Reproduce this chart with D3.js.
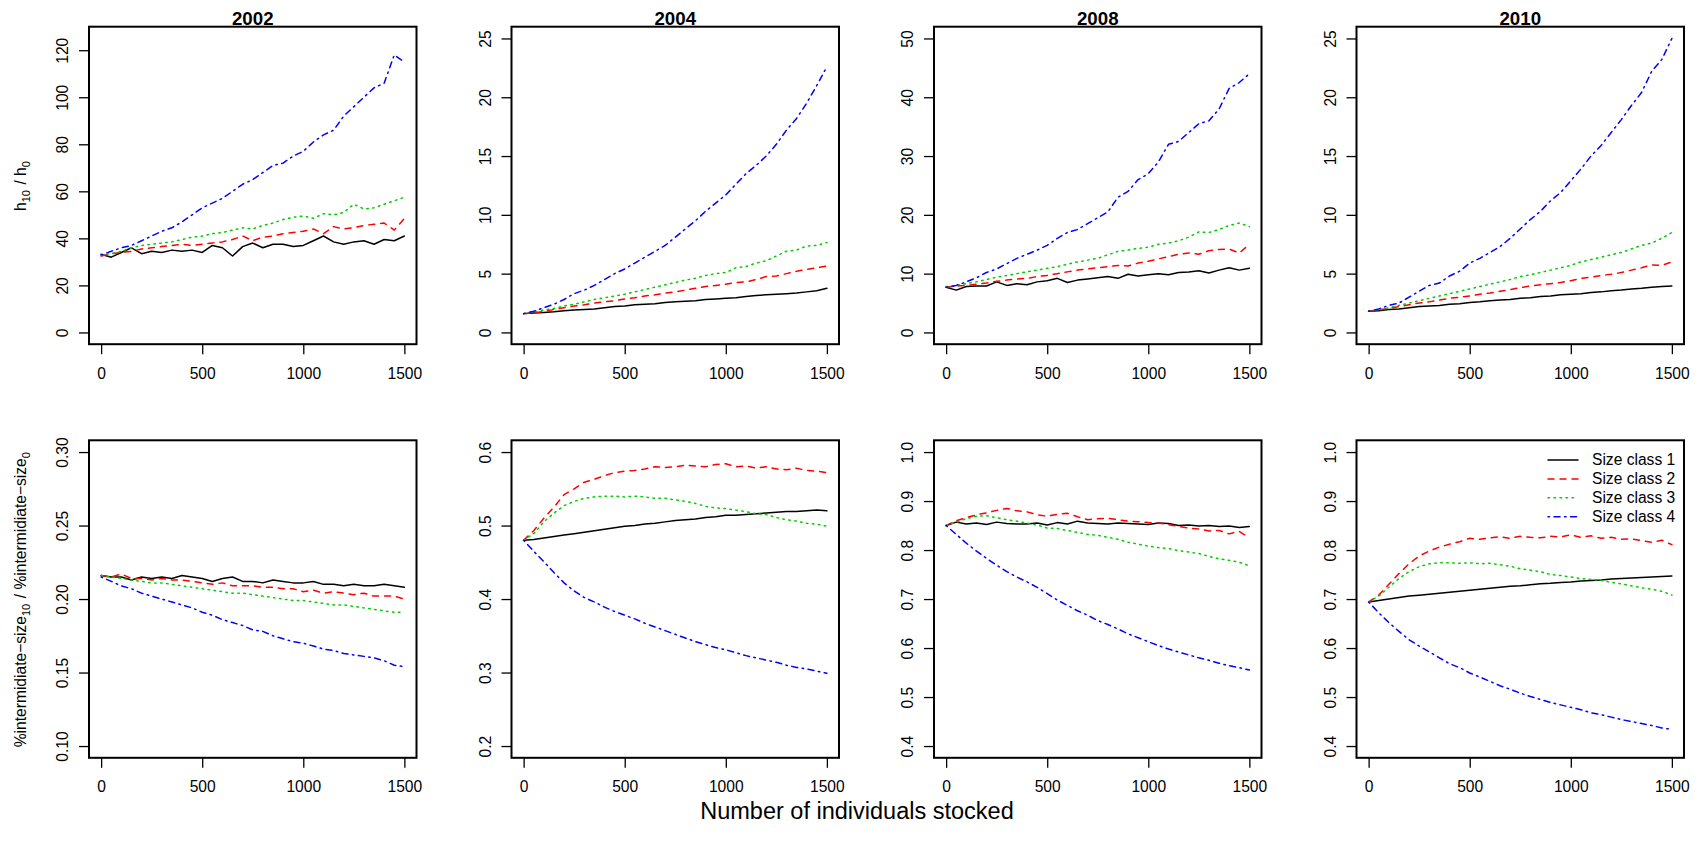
<!DOCTYPE html>
<html>
<head>
<meta charset="utf-8">
<script src="https://cdn.jsdelivr.net/npm/d3@7"></script>
<style>
  body { margin: 0; background: #fff; }
  svg { display: block; font-family: "Liberation Sans", Arial, Helvetica, sans-serif; }
</style>
</head>
<body>
<div id="chart"></div>
<script>
// x values (number of individuals stocked)
const stocked = [0, 50, 100, 150, 200, 250, 300, 350, 400, 450, 500, 550, 600, 650, 700, 750,
  800, 850, 900, 950, 1000, 1050, 1100, 1150, 1200, 1250, 1300, 1350, 1400, 1450, 1500];

const years = ["2002", "2004", "2008", "2010"];
const classes = ["Size class 1", "Size class 2", "Size class 3", "Size class 4"];
const xTicks = [0, 500, 1000, 1500];

// h10 / h0, one array per size class
const h2002 = [
  [33.2, 32, 34, 36, 33.5, 34.5, 34, 35, 34.5, 35, 34, 37, 36, 32.5, 36.5, 38, 36, 37.5, 37.5, 36.5, 37, 39, 41, 38.5, 37.5, 38.5, 39, 37.5, 39.5, 39, 41],
  [32.5, 33.5, 34, 34.5, 35.5, 36, 36.5, 37, 37.5, 37, 37.5, 38, 38.5, 39.5, 41, 39, 40.5, 41, 42, 42.5, 43, 44, 42, 45, 44, 44.5, 45.5, 46, 46.5, 43.5, 48.5],
  [33, 33.5, 34.5, 36, 37, 37.5, 38, 38.5, 39.5, 40.5, 41, 42, 42.5, 43.5, 44.5, 44, 45.5, 46.5, 48, 49, 49.5, 48.5, 50.5, 50, 51, 54.5, 52.5, 53, 54.5, 56, 57.5],
  [33, 34.5, 36, 37, 39, 41, 43, 44.5, 47, 50, 53, 55, 57, 60, 63, 65, 68, 71, 72, 75, 77, 81, 84, 86, 92, 96, 100, 104, 106, 118, 115]
];
const h2004 = [
  [1.6, 1.65, 1.7, 1.75, 1.85, 1.9, 1.95, 2.0, 2.1, 2.2, 2.25, 2.35, 2.4, 2.45, 2.55, 2.6, 2.65, 2.7, 2.8, 2.85, 2.9, 2.95, 3.05, 3.15, 3.2, 3.25, 3.3, 3.35, 3.45, 3.55, 3.75],
  [1.6, 1.65, 1.8, 1.95, 2.1, 2.25, 2.35, 2.5, 2.6, 2.7, 2.85, 2.95, 3.1, 3.2, 3.35, 3.45, 3.6, 3.75, 3.9, 4.0, 4.1, 4.25, 4.3, 4.5, 4.75, 4.8, 5.0, 5.2, 5.35, 5.5, 5.65],
  [1.6, 1.75, 1.9, 2.05, 2.25, 2.4, 2.6, 2.8, 2.95, 3.1, 3.25, 3.45, 3.65, 3.85, 4.05, 4.25, 4.45, 4.6, 4.85, 5.0, 5.1, 5.5, 5.6, 5.9, 6.1, 6.5, 6.9, 7.0, 7.35, 7.4, 7.65],
  [1.6, 1.8, 2.1, 2.4, 2.8, 3.3, 3.6, 4.0, 4.5, 5.0, 5.4, 5.9, 6.4, 6.9, 7.4, 8.1, 8.8, 9.5, 10.3, 11.0, 11.7, 12.6, 13.5, 14.2, 15.0, 16.0, 17.2, 18.2, 19.5, 21.0, 22.6]
];
const h2008 = [
  [7.7, 7.2, 7.8, 7.9, 7.9, 8.6, 8.0, 8.3, 8.1, 8.6, 8.8, 9.2, 8.5, 8.9, 9.1, 9.3, 9.5, 9.2, 9.9, 9.6, 9.8, 10.0, 9.8, 10.2, 10.3, 10.5, 10.1, 10.6, 11.0, 10.6, 10.9],
  [7.7, 7.9, 8.0, 8.2, 8.4, 8.7, 8.9, 9.1, 9.2, 9.5, 9.7, 10.0, 10.3, 10.6, 10.8, 11.0, 11.2, 11.4, 11.3, 11.8, 12.1, 12.5, 12.9, 13.3, 13.5, 13.3, 13.9, 14.1, 14.2, 13.5, 15.0],
  [7.8, 8.0, 8.3, 8.6, 9.0, 9.4, 9.7, 10.0, 10.3, 10.6, 10.9, 11.2, 11.6, 12.0, 12.3, 12.6, 13.2, 13.8, 14.0, 14.3, 14.5, 15.0, 15.2, 15.6, 16.2, 17.1, 17.0, 17.5, 18.2, 18.6, 18.0],
  [7.7, 8.0, 8.6, 9.3, 10.2, 10.8, 11.7, 12.6, 13.3, 14.0, 14.8, 16.0, 17.0, 17.5, 18.5, 19.5, 20.5, 23.0, 24.0, 26.0, 27.0, 29.0, 32.0, 32.5, 34.0, 35.5, 36.0, 38.0, 41.5, 42.5, 44.0]
];
const h2010 = [
  [1.8, 1.85, 1.95, 2.0, 2.1, 2.2, 2.25, 2.3, 2.4, 2.45, 2.55, 2.6, 2.7, 2.75, 2.8, 2.9, 2.95, 3.05, 3.1, 3.2, 3.25, 3.3, 3.4, 3.45, 3.55, 3.6, 3.7, 3.75, 3.85, 3.9, 3.95],
  [1.8, 1.9, 2.05, 2.2, 2.35, 2.5, 2.6, 2.75, 2.9, 3.0, 3.1, 3.25, 3.35, 3.5, 3.65, 3.8, 3.95, 4.05, 4.15, 4.25, 4.4, 4.6, 4.7, 4.85, 4.95, 5.1, 5.3, 5.5, 5.75, 5.7, 6.0],
  [1.8, 1.95, 2.1, 2.3, 2.5, 2.7, 2.9, 3.1, 3.3, 3.5, 3.7, 3.9, 4.1, 4.3, 4.5, 4.75, 4.9, 5.1, 5.3, 5.5, 5.7, 6.0, 6.2, 6.4, 6.6, 6.8, 7.1, 7.4, 7.6, 8.0, 8.5],
  [1.8, 2.0, 2.3, 2.5, 3.0, 3.5, 4.0, 4.2, 4.8, 5.2, 5.9, 6.3, 6.8, 7.3, 8.0, 8.8, 9.6, 10.3, 11.2, 11.9, 12.9, 13.9, 15.0, 15.9, 17.0, 18.1, 19.3, 20.4, 22.2, 23.2, 25.0]
];

// %intermediate-size10 / %intermediate-size0
const p2002 = [
  [0.216, 0.215, 0.215, 0.213, 0.215, 0.214, 0.215, 0.214, 0.216, 0.215, 0.214, 0.212, 0.214, 0.215, 0.212, 0.212, 0.211, 0.213, 0.212, 0.211, 0.211, 0.212, 0.210, 0.210, 0.209, 0.210, 0.209, 0.209, 0.210, 0.209, 0.208],
  [0.216, 0.215, 0.217, 0.214, 0.214, 0.213, 0.214, 0.213, 0.213, 0.212, 0.211, 0.210, 0.211, 0.209, 0.209, 0.209, 0.208, 0.208, 0.207, 0.207, 0.205, 0.206, 0.204, 0.205, 0.204, 0.203, 0.204, 0.202, 0.202, 0.202, 0.200],
  [0.216, 0.215, 0.214, 0.213, 0.212, 0.211, 0.211, 0.210, 0.209, 0.208, 0.207, 0.206, 0.205, 0.204, 0.204, 0.203, 0.202, 0.201, 0.200, 0.199, 0.199, 0.198, 0.197, 0.196, 0.196, 0.195, 0.194, 0.193, 0.192, 0.191, 0.191],
  [0.215, 0.212, 0.209, 0.207, 0.204, 0.202, 0.200, 0.198, 0.196, 0.194, 0.191, 0.189, 0.186, 0.184, 0.182, 0.179, 0.178, 0.175, 0.173, 0.171, 0.170, 0.168, 0.166, 0.165, 0.163, 0.162, 0.161, 0.160, 0.158, 0.155, 0.154]
];
const p2004 = [
  [0.480, 0.481, 0.483, 0.485, 0.487, 0.489, 0.491, 0.493, 0.495, 0.497, 0.499, 0.500, 0.502, 0.503, 0.505, 0.507, 0.508, 0.509, 0.511, 0.512, 0.514, 0.514, 0.515, 0.516, 0.517, 0.518, 0.519, 0.519, 0.520, 0.521, 0.520],
  [0.480, 0.493, 0.510, 0.525, 0.542, 0.550, 0.559, 0.563, 0.568, 0.572, 0.574, 0.575, 0.577, 0.580, 0.579, 0.580, 0.582, 0.581, 0.580, 0.583, 0.584, 0.580, 0.581, 0.578, 0.580, 0.577, 0.576, 0.578, 0.575, 0.574, 0.572],
  [0.480, 0.489, 0.505, 0.517, 0.527, 0.533, 0.537, 0.539, 0.540, 0.540, 0.539, 0.540, 0.539, 0.537, 0.537, 0.535, 0.533, 0.530, 0.526, 0.524, 0.523, 0.521, 0.519, 0.516, 0.515, 0.511, 0.508, 0.506, 0.503, 0.502, 0.499],
  [0.480, 0.465, 0.451, 0.436, 0.422, 0.411, 0.402, 0.396, 0.389, 0.383, 0.378, 0.373, 0.367, 0.362, 0.357, 0.352, 0.347, 0.342, 0.338, 0.334, 0.331, 0.327, 0.323, 0.320, 0.317, 0.314, 0.310, 0.307, 0.305, 0.302, 0.299]
];
const p2008 = [
  [0.850, 0.857, 0.853, 0.855, 0.852, 0.857, 0.854, 0.853, 0.853, 0.855, 0.851, 0.856, 0.853, 0.859, 0.855, 0.854, 0.853, 0.855, 0.854, 0.853, 0.852, 0.855, 0.854, 0.850, 0.851, 0.849, 0.850, 0.848, 0.849, 0.846, 0.848],
  [0.850, 0.860, 0.866, 0.872, 0.876, 0.881, 0.885, 0.880, 0.878, 0.872, 0.869, 0.873, 0.875, 0.868, 0.862, 0.864, 0.865, 0.862, 0.859, 0.858, 0.856, 0.855, 0.852, 0.848, 0.845, 0.843, 0.839, 0.840, 0.833, 0.838, 0.825],
  [0.850, 0.857, 0.864, 0.869, 0.870, 0.866, 0.862, 0.859, 0.855, 0.851, 0.845, 0.844, 0.840, 0.836, 0.832, 0.830, 0.826, 0.822, 0.816, 0.812, 0.808, 0.805, 0.803, 0.799, 0.796, 0.793, 0.787, 0.782, 0.779, 0.775, 0.768],
  [0.850, 0.832, 0.814, 0.798, 0.783, 0.769, 0.756, 0.745, 0.735, 0.724, 0.711, 0.698, 0.687, 0.676, 0.667, 0.656, 0.648, 0.639, 0.629, 0.621, 0.613, 0.605, 0.598, 0.592, 0.586, 0.580, 0.575, 0.569, 0.564, 0.560, 0.555]
];
const p2010 = [
  [0.694, 0.697, 0.700, 0.703, 0.706, 0.708, 0.710, 0.712, 0.714, 0.716, 0.718, 0.720, 0.722, 0.724, 0.726, 0.727, 0.729, 0.731, 0.732, 0.734, 0.735, 0.737, 0.738, 0.739, 0.741, 0.742, 0.743, 0.744, 0.745, 0.746, 0.747],
  [0.694, 0.708, 0.730, 0.752, 0.772, 0.788, 0.798, 0.806, 0.812, 0.817, 0.824, 0.822, 0.825, 0.827, 0.824, 0.828, 0.826, 0.825, 0.828, 0.827, 0.831, 0.826, 0.829, 0.824, 0.826, 0.822, 0.823, 0.819, 0.816, 0.820, 0.811],
  [0.694, 0.706, 0.724, 0.742, 0.756, 0.766, 0.772, 0.774, 0.774, 0.773, 0.774, 0.772, 0.773, 0.770, 0.767, 0.762, 0.759, 0.756, 0.750, 0.748, 0.745, 0.742, 0.740, 0.738, 0.734, 0.731, 0.727, 0.723, 0.720, 0.716, 0.708],
  [0.694, 0.672, 0.652, 0.634, 0.617, 0.604, 0.592, 0.580, 0.568, 0.560, 0.549, 0.541, 0.532, 0.523, 0.516, 0.508, 0.501, 0.495, 0.489, 0.484, 0.479, 0.474, 0.468, 0.464, 0.459, 0.454, 0.450, 0.446, 0.442, 0.437, 0.434]
];

// y limits and tick labels per panel
const hLims = [[0, 125], [0, 25], [0, 50], [0, 25]];
const pLims = [[0.1, 0.3], [0.2, 0.6], [0.4, 1.0], [0.4, 1.0]];
const hTickLabels = [
  ["0", "20", "40", "60", "80", "100", "120"],
  ["0", "5", "10", "15", "20", "25"],
  ["0", "10", "20", "30", "40", "50"],
  ["0", "5", "10", "15", "20", "25"]
];
const pTickLabels = [
  ["0.10", "0.15", "0.20", "0.25", "0.30"],
  ["0.2", "0.3", "0.4", "0.5", "0.6"],
  ["0.4", "0.5", "0.6", "0.7", "0.8", "0.9", "1.0"],
  ["0.4", "0.5", "0.6", "0.7", "0.8", "0.9", "1.0"]
];

const colors = ["#000000", "#ff0000", "#00cd00", "#0000ff"];
const dashes = [null, "6,6", "1.5,4.5", "1.5,4.5,6,4.5"];

const width = 1700, height = 854,
  lefts = [89, 511.5, 934, 1356.5],
  tops = [26.7, 440.3],
  pw = 327.5, ph = 317.5,
  fs = 15.6;

// R style: pad the data range by 4% on each side
const pad = ([lo, hi]) => [lo - 0.04 * (hi - lo), hi + 0.04 * (hi - lo)];

const svg = d3.select("#chart").append("svg")
  .attr("width", width)
  .attr("height", height)
  .attr("viewBox", [0, 0, width, height]);

svg.append("rect").attr("width", width).attr("height", height).attr("fill", "#fff");

const defs = svg.append("defs");

function drawPanel(row, col, series, lim, tickLabels, title) {
  const left = lefts[col], top = tops[row];
  const x = d3.scaleLinear().domain(pad([0, 1500])).range([left, left + pw]);
  const y = d3.scaleLinear().domain(pad(lim)).range([top + ph, top]);
  const clipId = `clip-${row}-${col}`;

  defs.append("clipPath").attr("id", clipId)
    .append("rect").attr("x", left).attr("y", top).attr("width", pw).attr("height", ph);

  const g = svg.append("g");

  const line = d3.line()
    .x((d, i) => x(stocked[i]))
    .y(d => y(d));

  g.append("g").attr("clip-path", `url(#${clipId})`)
    .selectAll("path")
    .data(series)
    .join("path")
      .attr("d", line)
      .attr("fill", "none")
      .attr("stroke", (d, i) => colors[i])
      .attr("stroke-width", 1.5)
      .attr("stroke-linecap", "round")
      .attr("stroke-linejoin", "round")
      .attr("stroke-dasharray", (d, i) => dashes[i]);

  // x axis
  const xa = g.append("g")
    .attr("transform", `translate(0,${top + ph})`)
    .call(d3.axisBottom(x).tickValues(xTicks).tickSize(10).tickFormat(d3.format("d")));
  xa.select(".domain").remove();
  xa.selectAll(".tick line").attr("stroke", "#000").attr("stroke-width", 1.3);
  xa.selectAll(".tick text")
    .attr("y", 34.5).attr("dy", 0)
    .attr("fill", "#000")
    .style("font-size", fs + "px")
    .style("font-family", "'Liberation Sans', Arial, sans-serif");

  // y axis with R-style rotated labels
  const yValues = tickLabels.map(Number);
  const ya = g.append("g")
    .attr("transform", `translate(${left},0)`)
    .call(d3.axisLeft(y).tickValues(yValues).tickSize(10).tickFormat((d, i) => tickLabels[i]));
  ya.select(".domain").remove();
  ya.selectAll(".tick line").attr("stroke", "#000").attr("stroke-width", 1.3);
  ya.selectAll(".tick text")
    .attr("transform", "rotate(-90)")
    .attr("x", 0).attr("y", -20.7).attr("dy", 0)
    .attr("text-anchor", "middle")
    .attr("fill", "#000")
    .style("font-size", fs + "px")
    .style("font-family", "'Liberation Sans', Arial, sans-serif");

  // box
  g.append("rect")
    .attr("x", left).attr("y", top)
    .attr("width", pw).attr("height", ph)
    .attr("fill", "none")
    .attr("stroke", "#000")
    .attr("stroke-width", 2);

  if (title) {
    g.append("text")
      .attr("x", left + pw / 2)
      .attr("y", top - 1.7)
      .attr("text-anchor", "middle")
      .attr("font-weight", "bold")
      .style("font-size", "18.7px")
      .text(title);
  }
  return { x, y };
}

const hData = [h2002, h2004, h2008, h2010];
const pData = [p2002, p2004, p2008, p2010];

years.forEach((yr, i) => {
  drawPanel(0, i, hData[i], hLims[i], hTickLabels[i], yr);
  drawPanel(1, i, pData[i], pLims[i], pTickLabels[i], null);
});

// y axis titles with subscripts
function subTitle(cy, parts) {
  const t = svg.append("text")
    .attr("transform", `translate(26,${cy}) rotate(-90)`)
    .attr("text-anchor", "middle")
    .style("font-size", fs + "px");
  parts.forEach(([s, sub]) => {
    t.append("tspan").text(s);
    t.append("tspan").attr("dy", 4).style("font-size", (fs * 0.7) + "px").text(sub);
    t.append("tspan").attr("dy", -4).text("\u200A");
  });
}
subTitle(tops[0] + ph / 2, [["h", "10"], [" / h", "0"]]);
subTitle(tops[1] + ph / 2, [["%intermidiate\u2212size", "10"], [" / %intermidiate\u2212size", "0"]]);

// x axis title
svg.append("text")
  .attr("x", 857)
  .attr("y", 818.5)
  .attr("text-anchor", "middle")
  .style("font-size", "23.5px")
  .text("Number of individuals stocked");

// legend in the last lower panel
const legend = svg.append("g").attr("transform", "translate(1548,460)");
const rows = legend.selectAll("g").data(classes).join("g")
  .attr("transform", (d, i) => `translate(0,${i * 18.9})`);
rows.append("line")
  .attr("x1", 0).attr("x2", 30)
  .attr("stroke", (d, i) => colors[i])
  .attr("stroke-width", 1.5)
  .attr("stroke-linecap", "round")
  .attr("stroke-dasharray", (d, i) => dashes[i]);
rows.append("text")
  .attr("x", 44)
  .attr("dy", "0.35em")
  .style("font-size", fs + "px")
  .text(d => d);
</script>
</body>
</html>
